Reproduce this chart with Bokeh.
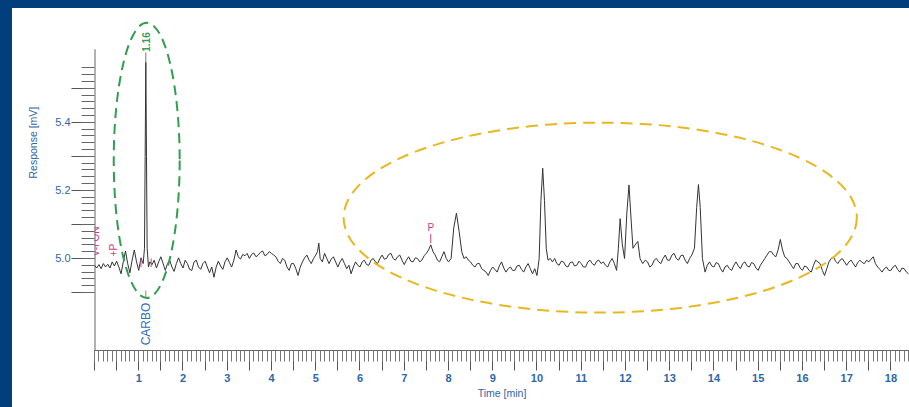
import math
from bokeh.plotting import figure
from bokeh.models import FixedTicker, NumeralTickFormatter, Title, Range1d
from bokeh.layouts import column
from bokeh.embed import file_html
from bokeh.resources import INLINE
from bokeh.core.properties import value

# ---------------- data ----------------
STEP = 0.05  # detector sampling interval of the baseline readings, min

# baseline stretches: (first time in min, readings in mV every STEP)
base_a_start = 0.0
base_a_mv = [4.980, 4.972, 4.982, 4.970, 4.985, 4.975, 4.983, 4.972, 4.990, 4.978,
             4.992, 4.975, 4.955, 4.990, 5.022, 4.985, 4.958, 4.995, 5.025, 4.990,
             4.965, 5.002, 4.985]
base_b_start = 1.25
base_b_mv = [4.990, 4.982, 4.995, 4.972, 4.990, 5.005, 4.985, 4.965, 4.985, 4.995,
             4.975, 4.962, 4.985, 5.002, 4.985, 4.972, 4.995, 4.985, 4.968, 4.965,
             4.990, 4.995, 4.975, 4.968, 4.985, 4.992, 4.975, 4.958, 4.975, 4.945,
             4.975, 4.992, 4.978, 4.968, 4.990, 5.002, 4.988, 4.975, 4.995, 5.025,
             5.005, 4.998, 5.012, 5.008, 5.015, 5.000, 5.012, 5.016, 5.005, 5.010,
             5.018, 5.022, 5.008, 5.012, 5.020, 5.015, 5.010, 5.005, 4.992, 4.985,
             5.000, 4.995, 4.975, 4.965, 4.985, 4.985, 4.970, 4.950, 4.975, 4.990,
             5.002, 5.010, 4.995, 4.985, 5.000, 5.010]
base_c_start = 5.15
base_c_mv = [4.990, 5.015, 5.000, 4.985, 4.998, 5.005, 4.990, 4.975, 4.990, 5.000,
             4.985, 4.970, 4.980, 4.955, 4.975, 4.990, 4.980, 4.975, 4.990, 4.995,
             4.982, 4.980, 4.995, 5.000, 4.990, 4.985, 5.000, 5.010, 4.998, 5.000,
             5.012, 5.015, 5.000, 4.995, 5.005, 5.010, 4.995, 4.982, 4.995, 5.005,
             4.992, 4.990, 5.002, 5.000, 4.990, 4.995, 5.008, 5.015, 5.025, 5.040,
             5.020, 5.010, 4.995, 4.990, 5.005, 5.020, 5.000, 4.990]
base_d_start = 8.35
base_d_mv = [5.000, 5.005, 4.995, 4.990, 4.980, 4.975, 4.985, 4.985, 4.970, 4.965,
             4.960, 4.950, 4.965, 4.975, 4.968, 4.960, 4.978, 4.990, 4.972, 4.960,
             4.970, 4.975, 4.965, 4.965, 4.978, 4.980, 4.968, 4.960, 4.975, 4.985,
             4.970, 4.955, 4.970, 4.950]
base_e_start = 10.30
base_e_mv = [5.000, 4.990, 5.000, 4.985, 4.980, 4.992, 4.990, 4.978, 4.975, 4.988,
             4.990, 4.978, 4.980, 4.992, 4.985, 4.975, 4.975, 4.990, 4.995, 4.985,
             4.980, 4.992, 4.995, 4.985, 4.990, 4.980, 4.975, 4.990, 5.000, 4.985,
             4.965]
base_f_start = 12.45
base_f_mv = [4.995, 4.990, 4.975, 4.980, 4.995, 5.000, 4.990, 4.985, 5.000, 5.010,
             4.995, 4.995, 5.010, 5.015, 5.000, 4.995, 5.008, 5.010, 4.995, 4.985,
             5.000, 5.010]
base_g_start = 13.80
base_g_mv = [4.960, 4.980, 4.990, 4.978, 4.975, 4.988, 4.985, 4.970, 4.960, 4.975,
             4.980, 4.970, 4.965, 4.980, 4.990, 4.978, 4.970, 4.985, 4.990, 4.978,
             4.975, 4.988, 4.985, 4.972, 4.965, 4.980, 4.990, 5.000, 5.010, 5.020,
             5.020, 5.010, 5.005, 5.025, 5.056, 5.025, 5.005, 5.000, 4.990, 4.980,
             4.970, 4.985, 4.985, 4.972, 4.965, 4.978, 4.975, 4.965, 4.960, 4.980,
             4.995, 4.990, 4.985, 4.965, 4.950, 4.970, 4.990, 5.000, 5.005, 4.992,
             4.985, 4.995, 5.000, 4.990, 4.980, 4.990, 4.995, 4.985, 4.975, 4.988,
             4.995, 4.988, 4.985, 4.995, 4.990, 4.998, 5.005, 4.985, 4.975, 4.968,
             4.960, 4.970, 4.975, 4.965, 4.965, 4.975, 4.980, 4.968, 4.960, 4.972,
             4.970, 4.960, 4.955]

# peaks, read point by point
peak1_min = [1.13, 1.145, 1.16, 1.175, 1.19, 1.22]
peak1_mv = [5.030, 5.300, 5.576, 5.300, 5.030, 4.975]
peak_b_min = [5.04, 5.07, 5.10]
peak_b_mv = [5.020, 5.045, 5.000]
peak2_min = [8.06, 8.12, 8.18, 8.24, 8.30]
peak2_mv = [5.000, 5.090, 5.133, 5.080, 5.020]
peak3_min = [10.05, 10.09, 10.13, 10.17, 10.21, 10.25]
peak3_mv = [5.000, 5.170, 5.265, 5.170, 5.030, 4.995]
peak45_min = [11.84, 11.88, 11.93, 11.98, 12.03, 12.08, 12.13, 12.17, 12.22, 12.28, 12.33, 12.39]
peak45_mv = [5.030, 5.117, 5.040, 5.000, 5.130, 5.216, 5.110, 5.030, 5.040, 5.050, 5.000, 4.985]
peak6_min = [13.56, 13.61, 13.65, 13.69, 13.74]
peak6_mv = [5.030, 5.150, 5.217, 5.150, 5.000]

x_tick_minutes = [i * 0.5 for i in range(0, 37)]
x_minor_minutes = [round(i * 0.1, 1) for i in range(0, 185)]
y_ticks_mv = [4.9, 5.0, 5.1, 5.2, 5.3, 5.4, 5.5]
y_minor_mv = [round(4.9 + i * 0.02, 2) for i in range(0, 34)]
y_labelled_mv = [5.0, 5.2, 5.4]

peak_time = [1.16]
peak_label = ["1.16"]
compound_label = ["CARBO"]
event_time = [0.03, 0.43, 7.6]
event_label = ["V-I ON", "+P", "P"]


def stretch(start, readings):
    return [round(start + i * STEP, 3) for i in range(len(readings))]


pieces = [
    (stretch(base_a_start, base_a_mv), base_a_mv), (peak1_min, peak1_mv),
    (stretch(base_b_start, base_b_mv), base_b_mv), (peak_b_min, peak_b_mv),
    (stretch(base_c_start, base_c_mv), base_c_mv), (peak2_min, peak2_mv),
    (stretch(base_d_start, base_d_mv), base_d_mv), (peak3_min, peak3_mv),
    (stretch(base_e_start, base_e_mv), base_e_mv), (peak45_min, peak45_mv),
    (stretch(base_f_start, base_f_mv), base_f_mv), (peak6_min, peak6_mv),
    (stretch(base_g_start, base_g_mv), base_g_mv),
]
time_min, response_mv = [], []
for ts, vs in pieces:
    time_min += ts
    response_mv += vs

# ---------------- figure ----------------
BLUE_TXT = "#2f66a8"
X_END = 18.42
Y_START, Y_END = 4.7298, 5.734
p = figure(width=897, height=399, output_backend="svg", toolbar_location=None,
           x_range=Range1d(0, X_END), y_range=Range1d(Y_START, Y_END),
           min_border_left=82, min_border_right=0, min_border_top=0, min_border_bottom=57)
p.grid.visible = False
p.outline_line_color = None
p.background_fill_color = "white"
p.border_fill_color = "white"
p.styles = {"background-color": "white"}

# x axis
xa = p.xaxis[0]
xa.ticker = FixedTicker(ticks=x_tick_minutes, minor_ticks=x_minor_minutes)
xa.formatter = NumeralTickFormatter(format="0")
xa.major_label_overrides = {t: "" for t in x_tick_minutes if t != int(t) or t == 0}
xa.major_tick_out = 20
xa.major_tick_in = 0
xa.minor_tick_out = 11
xa.minor_tick_in = 0
xa.axis_line_color = "#666666"
xa.major_tick_line_color = "#555555"
xa.minor_tick_line_color = "#777777"
xa.major_label_standoff = 3
xa.major_label_text_color = BLUE_TXT
xa.major_label_text_font = "Liberation Sans"
xa.major_label_text_font_size = "11px"
xa.major_label_text_font_style = "bold"
xa.axis_label = "Time [min]"
xa.axis_label_text_color = BLUE_TXT
xa.axis_label_text_font = "Liberation Sans"
xa.axis_label_text_font_size = "10.5px"
xa.axis_label_text_font_style = "normal"
xa.axis_label_standoff = 2

# y axis (rule drawn only up to 5.61 mV as in the reference)
Y_RULE_TOP = 5.614
ya = p.yaxis[0]
ya.bounds = (Y_START, Y_RULE_TOP)
ya.ticker = FixedTicker(ticks=y_ticks_mv, minor_ticks=y_minor_mv)
ya.formatter = NumeralTickFormatter(format="0.0")
ya.major_label_overrides = {t: "" for t in y_ticks_mv if t not in y_labelled_mv}
ya.major_tick_out = 23
ya.major_tick_in = 0
ya.minor_tick_out = 13
ya.minor_tick_in = 0
ya.axis_line_color = None
ya.major_tick_line_color = "#555555"
ya.minor_tick_line_color = "#666666"
ya.major_label_standoff = 1
ya.major_label_text_color = BLUE_TXT
ya.major_label_text_font = "Liberation Sans"
ya.major_label_text_font_size = "11px"
p.segment(x0=[0], y0=[Y_START], x1=[0], y1=[Y_RULE_TOP], line_color="#666666", line_width=2)

p.add_layout(Title(text="Response [mV]", align="left", offset=172, standoff=26,
                   vertical_align="middle", text_color=BLUE_TXT,
                   text_font="Liberation Sans", text_font_size="10.5px",
                   text_font_style="normal"), "left")

# chromatogram trace
p.line(time_min, response_mv, line_color="#333333", line_width=1.0)

# peak marker and labels
p.segment(x0=peak_time, y0=[5.576], x1=peak_time, y1=[5.605], line_color="#777777", line_width=1)
p.text(x=peak_time, y=[5.607], text=peak_label, angle=math.pi / 2, text_align="left",
       text_baseline="middle", text_color="#3d9a5b", text_font=value("Liberation Sans"),
       text_font_size="10px", text_font_style="bold")
p.segment(x0=peak_time, y0=[4.886], x1=peak_time, y1=[4.906], line_color="#888888", line_width=1)
p.text(x=peak_time, y=[4.745], text=compound_label, angle=math.pi / 2, text_align="left",
       text_baseline="middle", text_color="#2f6db5", text_font=value("Liberation Sans"),
       text_font_size="12px")

# events (pink)
PINK = "#c8417f"
p.text(x=event_time[:2], y=[5.006, 5.006], text=event_label[:2], angle=math.pi / 2,
       text_align="left", text_baseline="middle", text_color=PINK,
       text_font=value("Liberation Sans"), text_font_size="10px")
p.text(x=event_time[2:], y=[5.075], text=event_label[2:], text_align="center",
       text_baseline="bottom", text_color=PINK,
       text_font=value("Liberation Sans"), text_font_size="10px")
p.segment(x0=[7.6], y0=[5.045], x1=[7.6], y1=[5.072], line_color=PINK, line_width=1)
p.segment(x0=[1.05, 1.28], y0=[4.975, 4.975], x1=[1.05, 1.28], y1=[5.0, 5.0],
          line_color=PINK, line_width=1)

# highlighting ellipses
p.ellipse(x=[1.18], y=[5.288], width=1.49, height=0.808, fill_color=None,
          line_color="#2f9e4e", line_width=2, line_dash="10 6")
p.ellipse(x=[11.43], y=[5.12], width=11.6, height=0.558, fill_color=None,
          line_color="#e8b820", line_width=2, line_dash="12 7")

layout = column(p, styles={"background-color": "#023d7c", "padding": "8px 0px 0px 12px"})
open("out.html", "w").write(file_html(layout, INLINE))
